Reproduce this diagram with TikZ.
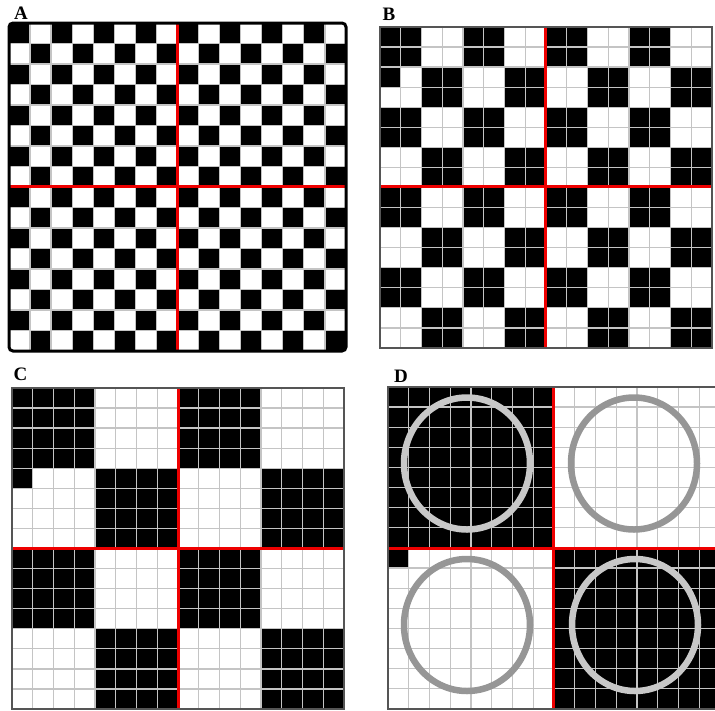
\documentclass[tikz,border=0pt]{standalone}
\usepackage{fontspec}
\setmainfont{Liberation Serif}

\definecolor{gridgray}{RGB}{196,196,196}
\definecolor{framegray}{RGB}{85,85,85}
\definecolor{ringlight}{RGB}{200,200,200}
\definecolor{ringdark}{RGB}{150,150,150}
\definecolor{splitred}{RGB}{238,0,0}

% #1 = block size (cells), #2 = cell width, #3 = cell height, #4 = 1 for the stray cell
\newcommand{\drawboard}[4]{%
  \pgfmathtruncatemacro{\nblk}{16/#1-1}
  \foreach \i in {0,...,\nblk}{
    \foreach \j in {0,...,\nblk}{
      \pgfmathtruncatemacro{\isblack}{mod(\i+\j,2)==0}
      \ifnum\isblack=1
        \fill[black] (\j*#1*#2,\i*#1*#3) rectangle ++(#1*#2,#1*#3);
      \fi
    }
  }
  \ifnum#4=1
    \fill[black] (0,#1*#3) rectangle ++(#2,#3);
  \fi
  \foreach \k in {1,...,15}{
    \draw[gridline] (\k*#2,0) -- (\k*#2,16*#3);
    \draw[gridline] (0,\k*#3) -- (16*#2,\k*#3);
  }
}

\begin{document}
\begin{tikzpicture}[x=1pt, y=-1pt,
    gridline/.style={gridgray, line width=1.3pt},
    panelframe/.style={draw=framegray, line width=1.2pt},
    splitline/.style={splitred, line width=3pt},
    ring/.style={line width=6.5pt},
    tag/.style={font=\fontsize{19}{19}\selectfont\bfseries, inner sep=0pt},
]
  \clip (0,0) rectangle (715,710);

  % labels
  \node[tag] (labA) at (21,13.5) {A};
  \node[tag] (labB) at (389,14.5) {B};
  \node[tag] (labC) at (20.5,374) {C};
  \node[tag] (labD) at (401,376) {D};

  % A: single cells
  \begin{scope}[shift={(9,23)}]
    \drawboard{1}{21.06}{20.5}{0}
    \draw[splitline] (168.5,0) -- (168.5,328);
    \draw[splitline] (0,163.5) -- (337,163.5);
    \draw[line width=3pt, rounded corners=4pt] (0,0) rectangle (337,328);
  \end{scope}

  % B: 2x2 blocks
  \begin{scope}[shift={(380,27)}]
    \drawboard{2}{20.75}{20.06}{1}
    \draw[splitline] (165.5,0) -- (165.5,321);
    \draw[splitline] (0,159.5) -- (332,159.5);
    \draw[panelframe] (0,0) rectangle (332,321);
  \end{scope}

  % C: 4x4 blocks
  \begin{scope}[shift={(12,388)}]
    \drawboard{4}{20.75}{20.06}{1}
    \draw[splitline] (166,0) -- (166,321);
    \draw[splitline] (0,160) -- (332,160);
    \draw[panelframe] (0,0) rectangle (332,321);
  \end{scope}

  % D: quadrants with rings
  \begin{scope}[shift={(388,387)}]
    \drawboard{8}{20.75}{20.12}{1}
    \draw[ring, ringlight] (79,76.5) ellipse [x radius=63, y radius=66];
    \draw[ring, ringdark] (246,76.5) ellipse [x radius=63, y radius=66];
    \draw[ring, ringdark] (79,238) ellipse [x radius=63, y radius=66];
    \draw[ring, ringlight] (247,238) ellipse [x radius=63, y radius=66];
    \draw[splitline] (165,0) -- (165,322);
    \draw[splitline] (0,161) -- (332,161);
    \draw[panelframe] (0,0) rectangle (332,322);
  \end{scope}
\end{tikzpicture}
\end{document}
